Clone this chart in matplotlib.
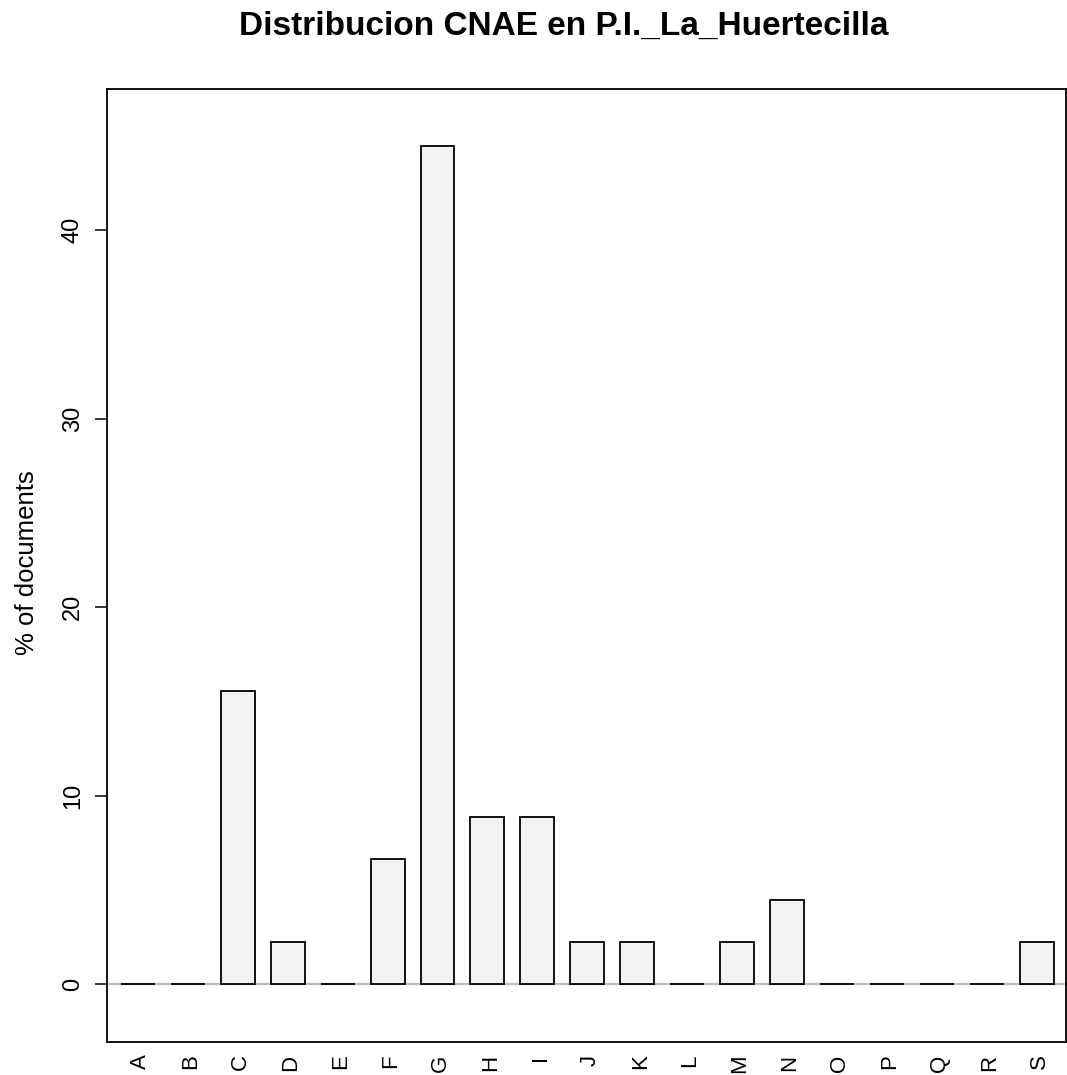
import matplotlib
matplotlib.use("Agg")
import matplotlib.pyplot as plt
import matplotlib.transforms as mtransforms
import numpy as np

categories = ["A", "B", "C", "D", "E", "F", "G", "H", "I", "J",
              "K", "L", "M", "N", "O", "P", "Q", "R", "S"]
counts = [0, 0, 7, 1, 0, 3, 20, 4, 4, 1, 1, 0, 1, 2, 0, 0, 0, 0, 1]
total = sum(counts)
percent = [100.0 * c / total for c in counts]
yticks = [0, 10, 20, 30, 40]
title = "Distribucion CNAE en P.I._La_Huertecilla"
ylabel = "% of documents"

plt.rcParams['font.family'] = ['Liberation Sans', 'DejaVu Sans']

fig = plt.figure(figsize=(10.67, 10.75), dpi=100)
ax = fig.add_axes([107 / 1067, 1 - 1042 / 1075, (1066 - 107) / 1067, (1042 - 88.5) / 1075])

x = np.arange(len(categories))
ax.axhline(0, color="#bebebe", lw=1.6, zorder=0.5)
ax.bar(x, percent, width=0.68, color="#f2f2f2", edgecolor="black", linewidth=1.3, zorder=2)

ax.set_xlim(-0.62, 18.59)
ax.set_ylim(-3.06, 47.5)
ax.set_xticks(x)
ax.set_xticklabels(categories, rotation=90, fontsize=16)
ax.set_yticks(yticks)
ax.set_yticklabels([str(v) for v in yticks], rotation=90, va="center", fontsize=17)
ax.tick_params(axis="x", length=0, pad=9)
ax.tick_params(axis="y", length=8.6, width=1.1, pad=8)
for s in ax.spines.values():
    s.set_linewidth(1.3)

offset = mtransforms.ScaledTranslation(3 / 100, 0, fig.dpi_scale_trans)
for lbl in ax.get_xticklabels():
    lbl.set_transform(lbl.get_transform() + offset)

fig.text(27 / 1067, 1 - 563 / 1075, ylabel, rotation=90, ha="center", va="center", fontsize=18.5)
fig.text(564 / 1067, 1 - 35 / 1075, title, ha="center", va="baseline", fontsize=24, fontweight="bold")

fig.savefig("out.png", dpi=100)
